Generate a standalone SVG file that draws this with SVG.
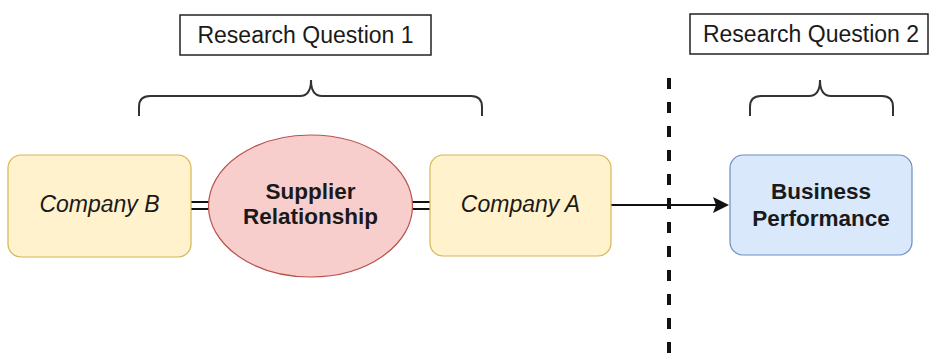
<svg xmlns="http://www.w3.org/2000/svg" width="929" height="354" viewBox="0 0 929 354">
<style>
text{font-family:"Liberation Sans",Arial,sans-serif;font-size:23px;fill:#1a1a1a;text-anchor:middle}
.it{font-style:italic}
.b{font-weight:bold;font-size:22.5px}
.rq{fill:#fff;stroke:#222;stroke-width:1.5}
.yel{fill:#fff2cc;stroke:#d6b656;stroke-width:1.2}
.brace{fill:none;stroke:#333;stroke-width:2}
.conn{fill:none;stroke:#111;stroke-width:1.8}
</style>
<rect width="929" height="354" fill="#fff"/>
<g id="rq1"><rect class="rq" x="180" y="15" width="251" height="40"/><text x="305.5" y="43">Research Question 1</text></g>
<g id="rq2"><rect class="rq" x="690" y="14" width="238" height="40"/><text x="811" y="42">Research Question 2</text></g>
<g id="brace1"><path class="brace" d="M139,116 V107 Q139,96 150,96 H300 Q311,96 311,80 Q311,96 322,96 H471 Q482,96 482,107 V116"/></g>
<g id="brace2"><path class="brace" d="M750,116 V107 Q750,96 761,96 H809 Q820,96 820,80 Q820,96 831,96 H882 Q893,96 893,107 V116"/></g>
<g id="divider"><line x1="669" y1="78" x2="669" y2="354" stroke="#111" stroke-width="4" stroke-dasharray="11 13"/></g>
<g id="connectors">
<path class="conn" d="M191,202 H209 M191,209 H209"/>
<path class="conn" d="M412,202 H430 M412,209 H430"/>
<path class="conn" d="M611,205 H716"/>
<polygon points="729,205 713,197 716,205 713,213" fill="#111"/>
</g>
<g id="companyB"><rect class="yel" x="8" y="155" width="183" height="102" rx="13"/><text class="it" x="99.5" y="212">Company B</text></g>
<g id="supplier"><ellipse cx="310.5" cy="206" rx="102" ry="71" fill="#f8cecc" stroke="#b85450" stroke-width="1.2"/><text class="b" x="310.5" y="199">Supplier</text><text class="b" x="310.5" y="224">Relationship</text></g>
<g id="companyA"><rect class="yel" x="430" y="155" width="181" height="101" rx="13"/><text class="it" x="520.5" y="212">Company A</text></g>
<g id="business"><rect x="730" y="155" width="182" height="100" rx="13" fill="#dae8fc" stroke="#6c8ebf" stroke-width="1.2"/><text class="b" x="821" y="199">Business</text><text class="b" x="821" y="226">Performance</text></g>
</svg>
